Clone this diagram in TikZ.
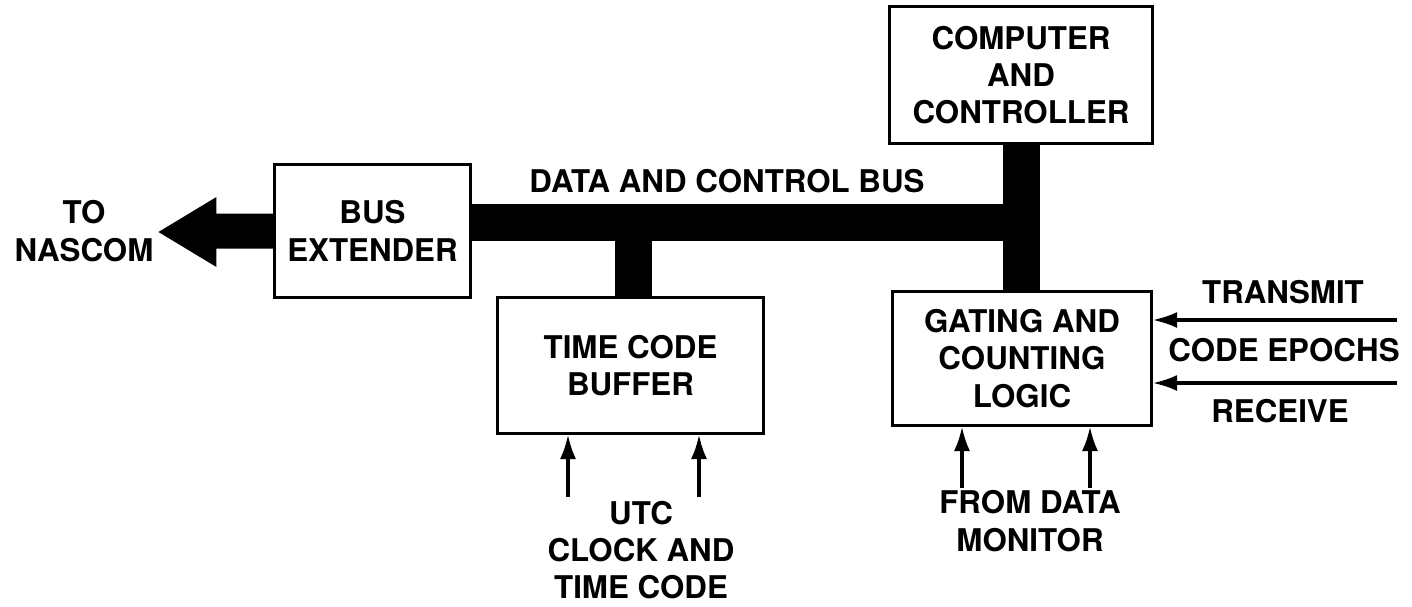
\documentclass[tikz,border=0pt]{standalone}
\usepackage{fontspec}
\setmainfont{TeX Gyre Heros}
\usetikzlibrary{arrows.meta}
\tikzset{
  blk/.style={draw, line width=0.85pt, align=center, inner sep=0pt},
  lbl/.style={align=center, inner sep=0pt},
  busline/.style={line width=0.37cm},
  sig/.style={line width=0.95pt, -{Latex[length=7pt,width=4.6pt]}},
}
\begin{document}
\begin{tikzpicture}[x=0.01cm, y=-0.01cm, font=\fontsize{8.9}{10.6}\selectfont\bfseries]
\useasboundingbox (0,0) rectangle (1412,606);
% blocks
\node[blk, minimum width=1.95cm, minimum height=1.32cm] (bext) at (372.5,231) {BUS\\EXTENDER};
\node[blk, minimum width=2.62cm, minimum height=1.36cm] (comp) at (1021,75) {COMPUTER\\AND\\CONTROLLER};
\node[blk, minimum width=2.58cm, minimum height=1.33cm] (gate) at (1022,358.5) {GATING AND\\COUNTING\\LOGIC};
\node[blk, minimum width=2.65cm, minimum height=1.35cm] (tcb) at (630.5,365.5) {TIME CODE\\BUFFER};
% bus
\coordinate (j) at (1021.5,222.5);
\coordinate (s) at (633.5,222.5);
\draw[busline] (comp.south -| j) -- (gate.north -| j);
\draw[busline] (bext.east |- j) -- (j);
\draw[busline] (s) -- (tcb.north -| s);
% arrow to NASCOM
\fill[shift={(bext.west)}] (0,-17.5) -- (-57,-17.5) -- (-57,-34) -- (-115,1) -- (-57,36) -- (-57,17.5) -- (0,17.5) -- cycle;
% labels
\node[lbl] (nascom) at (84,231) {TO\\NASCOM};
\node[lbl] (buslbl) at (727,181) {DATA AND CONTROL BUS};
\node[lbl] (tx) at (1283,292) {TRANSMIT};
\node[lbl] (epochs) at (1284,350) {CODE EPOCHS};
\node[lbl] (rx) at (1280,411) {RECEIVE};
\node[lbl] (fdm) at (1030,521) {FROM DATA\\MONITOR};
\node[lbl] (utc) at (641,550) {UTC\\CLOCK AND\\TIME CODE};
% signal arrows
\coordinate (t1) at (1397,320);
\coordinate (t2) at (1397,383);
\draw[sig] (t1) -- (t1 -| gate.east);
\draw[sig] (t2) -- (t2 -| gate.east);
\coordinate (g1) at (962,488);
\coordinate (g2) at (1090,488);
\draw[sig] (g1) -- (g1 |- gate.south);
\draw[sig] (g2) -- (g2 |- gate.south);
\coordinate (u1) at (568,497);
\coordinate (u2) at (699,497);
\draw[sig] (u1) -- (u1 |- tcb.south);
\draw[sig] (u2) -- (u2 |- tcb.south);
\end{tikzpicture}
\end{document}
